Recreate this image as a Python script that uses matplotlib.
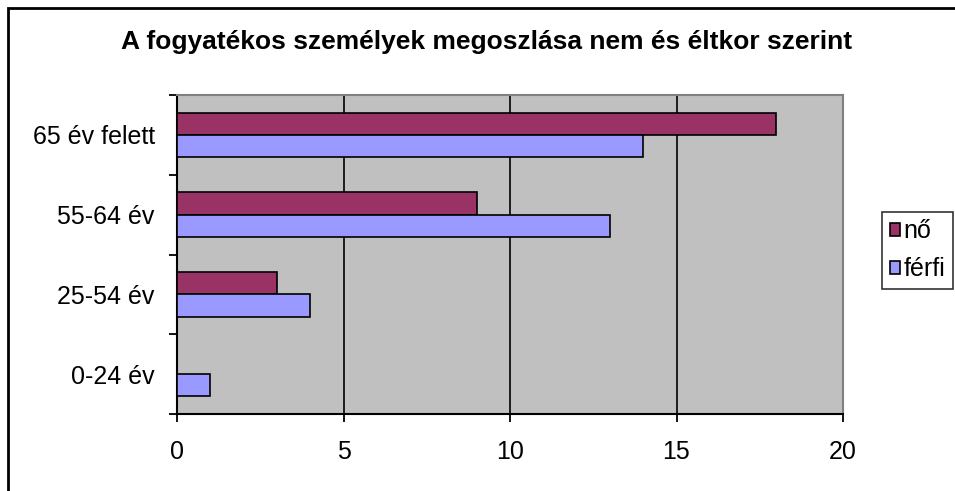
import matplotlib
matplotlib.use("Agg")
import matplotlib.pyplot as plt
import numpy as np
from matplotlib.patches import Rectangle

categories = ["0-24 év", "25-54 év", "55-64 év", "65 év felett"]
no_values = [0, 3, 9, 18]
ferfi_values = [1, 4, 13, 14]
series_names = ["nő", "férfi"]
xticks = [0, 5, 10, 15, 20]
title = "A fogyatékos személyek megoszlása nem és éltkor szerint"

plt.rcParams['font.family'] = ['Liberation Sans', 'DejaVu Sans']

W, H = 955, 491
fig = plt.figure(figsize=(W / 100, H / 100), dpi=100)
ax = fig.add_axes([177 / W, 1 - 414 / H, (843 - 177) / W, (414 - 95) / H])
ax.set_facecolor("#C0C0C0")

y = np.arange(len(categories))
h = 0.28
ax.barh(y + h / 2, no_values, height=h, color="#993366", edgecolor="black", linewidth=1.2, label=series_names[0], zorder=3)
ax.barh(y - h / 2, ferfi_values, height=h, color="#9999FF", edgecolor="black", linewidth=1.2, label=series_names[1], zorder=3)

ax.set_xlim(0, 20)
ax.set_ylim(-0.5, len(categories) - 0.5)
ax.set_xticks(xticks)
ax.set_xticklabels([str(t) for t in xticks], fontsize=18)
ax.set_yticks(y)
ax.set_yticklabels(categories, fontsize=18)
ax.set_yticks(np.arange(-0.5, len(categories), 1.0), minor=True)
ax.tick_params(axis='y', which='major', length=0, pad=16)
ax.tick_params(axis='y', which='minor', length=6, width=1.3, direction='out')
ax.tick_params(axis='x', which='major', length=6, width=1.3, direction='out', pad=13)
ax.xaxis.grid(True, color="black", linewidth=1.2, zorder=0)
ax.set_axisbelow(True)
for s in ["left", "bottom"]:
    ax.spines[s].set_color("black")
    ax.spines[s].set_linewidth(1.5)
for s in ["top", "right"]:
    ax.spines[s].set_color("#808080")
    ax.spines[s].set_linewidth(1.5)

fig.text(487 / W, 1 - 42 / H, title, ha="center", va="center", fontsize=19, fontweight="bold")

handles, labels = ax.get_legend_handles_labels()
leg = fig.legend(handles, labels, loc="upper left", bbox_to_anchor=(882 / W, 1 - 212 / H),
                 fontsize=18, frameon=True, fancybox=False, edgecolor="black",
                 handlelength=0.42, handleheight=0.42, handletextpad=0.15,
                 borderpad=0.3, labelspacing=0.55, borderaxespad=0)
leg.get_frame().set_linewidth(1.2)

fig.patches.append(Rectangle((8 / W, -0.1), 2, 1 - 8 / H + 0.1, transform=fig.transFigure,
                             fill=False, edgecolor="black", linewidth=2))

fig.savefig("out.png", dpi=100)
